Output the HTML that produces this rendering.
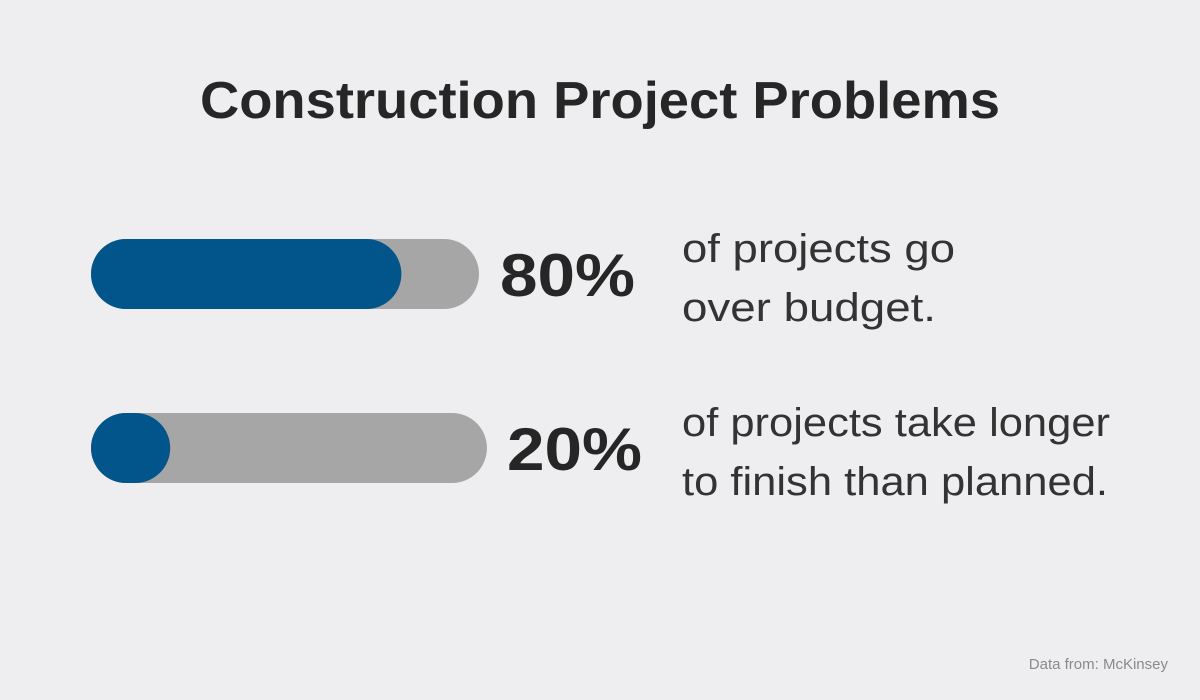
<!DOCTYPE html>
<html><head><meta charset="utf-8"><style>
html,body{margin:0;padding:0;background:#eeeef0;}
svg{display:block;font-family:"Liberation Sans",sans-serif;}
</style></head><body>
<svg width="1200" height="700" viewBox="0 0 1200 700">
<rect width="1200" height="700" fill="#eeeef0"/>
<text x="200" y="118" font-size="52" font-weight="bold" fill="#262626" textLength="800" lengthAdjust="spacingAndGlyphs">Construction Project Problems</text>
<g id="bars"></g>
<text x="1168" y="669" font-size="15" fill="#8a8a8a" text-anchor="end">Data from: McKinsey</text>
</svg>
<script>
const values = [80, 20];
const labels = ["80%", "20%"];
const line1 = ["of projects go", "of projects take longer"];
const line2 = ["over budget.", "to finish than planned."];
const tracks = [{y:239,w:388,tx:500,dx:682,l1:273,l2:256,l3:428,l4:426},{y:413,w:396,tx:507,dx:682,l1:428,l2:428,l3:428,l4:426}];
const g = document.getElementById('bars');
const NS = "http://www.w3.org/2000/svg";
function mk(t, a){const e=document.createElementNS(NS,t);for(const k in a)e.setAttribute(k,a[k]);return e;}
values.forEach((v,i)=>{
  const t = tracks[i], h = 70, x0 = 91;
  const tr = mk('rect',{x:x0,y:t.y,width:t.w,height:h,rx:35,fill:'#a6a6a6'});
  
  
  g.appendChild(tr);
  const fw = Math.max(h, t.w*v/100);
  const fl = mk('rect',{x:x0,y:t.y,width:fw,height:h,rx:35,fill:'#02558a'});
  
  
  g.appendChild(fl);
  const pt = mk('text',{x:t.tx,y:t.y+57,'font-size':60,'font-weight':'bold',fill:'#262626',textLength:135,lengthAdjust:'spacingAndGlyphs'});
  pt.textContent = labels[i];
  
  
  g.appendChild(pt);
  const d1 = mk('text',{x:t.dx,y:t.y+23,'font-size':40,fill:'#333',textLength:i==0?273:428,lengthAdjust:'spacingAndGlyphs'});
  d1.textContent = line1[i];
  
  
  g.appendChild(d1);
  const d2 = mk('text',{x:t.dx,y:t.y+82,'font-size':40,fill:'#333',textLength:i==0?254:426,lengthAdjust:'spacingAndGlyphs'});
  d2.textContent = line2[i];
  
  
  g.appendChild(d2);
});
</script>
</body></html>
